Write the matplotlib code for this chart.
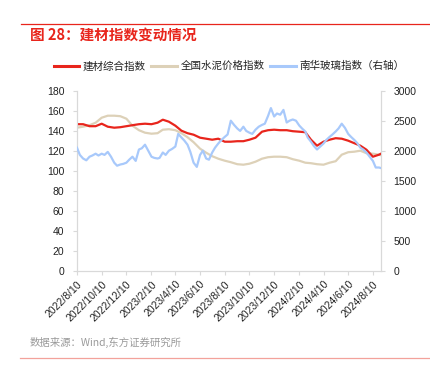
import matplotlib
matplotlib.use("Agg")
import matplotlib.pyplot as plt
from matplotlib.lines import Line2D
import pandas as pd

# ---------------- data ----------------
start = pd.Timestamp("2022-08-10")
end_date = pd.Timestamp("2024-08-30")

# semi-monthly sample dates (10th and 25th of each month) for the two left-axis series
half_dates = []
for k in range(25):
    base = start + pd.DateOffset(months=k)
    half_dates.append(base)
    half_dates.append(base.replace(day=25))
half_dates = half_dates[:50] + [end_date]

building_materials = [146.5, 146.5, 144.5, 144.5, 147, 144, 143, 143.5, 144.5, 145.5,
                      146.5, 147, 146.5, 148, 151, 149, 145, 140, 137.5, 136,
                      133, 132, 131, 132, 129, 129, 129.5, 129.5, 131, 133,
                      139, 140.5, 141, 140.5, 140.5, 139.5, 139, 138.5, 131, 125,
                      129, 131, 132.5, 132, 130, 127.5, 125, 121, 114, 116, 117]

cement_price = [143, 144, 145.5, 148, 153, 155, 155, 154.5, 152, 145,
                140.5, 138, 137, 137.5, 141, 141.5, 140.5, 137.5, 133.5, 128.5,
                122, 118, 114.5, 112, 110, 108.5, 106.5, 106, 107, 109,
                112, 113.5, 114, 114, 113.5, 111.5, 110, 108, 107.5, 106.5,
                106, 108, 109.5, 116, 118.5, 119, 120, 117.5, 117, 116, 115.5]

# roughly weekly sample dates for the glass index (10th, 17th, 25th, 2nd)
glass_dates = []
for k in range(25):
    base = start + pd.DateOffset(months=k)
    nxt = base + pd.DateOffset(months=1)
    glass_dates += [base, base.replace(day=17), base.replace(day=25), nxt.replace(day=2)]
glass_dates = glass_dates[:99] + [end_date]

glass_index = [2050, 1930, 1870, 1840, 1900, 1920, 1950, 1920, 1950, 1930,
               1980, 1900, 1800, 1750, 1770, 1780, 1800, 1850, 1900, 1830,
               2020, 2040, 2100, 2000, 1900, 1880, 1870, 1880, 1970, 1930,
               2000, 2030, 2070, 2280, 2220, 2170, 2100, 1980, 1800, 1730,
               1930, 2000, 1870, 1850, 1970, 2050, 2120, 2180, 2230, 2270,
               2500, 2430, 2370, 2330, 2400, 2330, 2300, 2280, 2350, 2400,
               2430, 2450, 2580, 2710, 2570, 2620, 2600, 2680, 2470, 2500,
               2520, 2500, 2420, 2370, 2320, 2220, 2150, 2080, 2020, 2070,
               2120, 2180, 2230, 2270, 2320, 2370, 2450, 2380, 2280, 2230,
               2180, 2130, 2050, 2020, 1970, 1900, 1830, 1720, 1720, 1710]

tick_labels = ["2022/8/10", "2022/10/10", "2022/12/10", "2023/2/10", "2023/4/10",
               "2023/6/10", "2023/8/10", "2023/10/10", "2023/12/10", "2024/2/10",
               "2024/4/10", "2024/6/10", "2024/8/10"]
tick_dates = pd.to_datetime(tick_labels, format="%Y/%m/%d")

left_ticks = [0, 20, 40, 60, 80, 100, 120, 140, 160, 180]
right_ticks = [0, 500, 1000, 1500, 2000, 2500, 3000]

names = ["建材综合指数", "全国水泥价格指数", "南华玻璃指数（右轴）"]
title = "图 28：建材指数变动情况"
source = "数据来源：Wind,东方证券研究所"

# ---------------- style ----------------
RED = "#e8251c"
BEIGE = "#ddd1b8"
BLUE = "#a8c9fb"
AXC = "#d9d9d9"
TXT = "#222222"
CJK = ["Noto Sans CJK SC", "DejaVu Sans"]
NUM = ["Liberation Sans", "DejaVu Sans"]

fig = plt.figure(figsize=(4.31, 3.75), dpi=100)
fig.patch.set_facecolor("white")

W, H = 431.0, 375.0
L, R, T, B = 77, 381, 90.7, 270.7
ax = fig.add_axes([L / W, 1 - B / H, (R - L) / W, (B - T) / H])
ax2 = ax.twinx()

l1, = ax.plot(half_dates, building_materials, color=RED, lw=1.6, zorder=3)
l2, = ax.plot(half_dates, cement_price, color=BEIGE, lw=1.6, zorder=2)
l3, = ax2.plot(glass_dates, glass_index, color=BLUE, lw=1.6, zorder=3)

ax.set_xlim(start, end_date)
ax.set_ylim(0, 180)
ax2.set_ylim(0, 3000)
ax.set_yticks(left_ticks)
ax.set_yticklabels([str(v) for v in left_ticks])
ax2.set_yticks(right_ticks)
ax2.set_yticklabels([str(v) for v in right_ticks])
ax.set_xticks(tick_dates)
ax.set_xticklabels(tick_labels, rotation=45, ha="right", rotation_mode="anchor")

for a in (ax, ax2):
    for s in a.spines.values():
        s.set_color(AXC)
        s.set_linewidth(0.8)
    a.spines["top"].set_visible(False)
    a.tick_params(colors=AXC, labelcolor=TXT, length=3, width=0.8, labelsize=7.5)
    for lab in a.get_xticklabels() + a.get_yticklabels():
        lab.set_family(NUM)
ax.tick_params(axis="y", pad=6)
ax2.tick_params(axis="y", pad=6)
ax.tick_params(axis="x", pad=3)
ax.patch.set_alpha(0)

# header / footer
fig.add_artist(Line2D([21 / W, 1.0], [1 - 24 / H, 1 - 24 / H], color=RED, lw=0.9))
fig.text(30 / W, 1 - 35 / H, title, color=RED, fontsize=10.5, fontweight="bold",
         family=CJK, ha="left", va="center")
fig.text(30 / W, 1 - 342 / H, source, color="#9a9a9a", fontsize=7.5,
         family=CJK, ha="left", va="center")
fig.add_artist(Line2D([20 / W, 1.0], [1 - 358 / H, 1 - 358 / H], color="#f3a29b", lw=0.9))

leg = fig.legend([l1, l2, l3], names, loc="center", bbox_to_anchor=(229 / W, 1 - 66 / H),
                 ncol=3, frameon=False, handlelength=2.4, handletextpad=0.35,
                 columnspacing=0.55, prop={"family": CJK, "size": 7.6})
for t in leg.get_texts():
    t.set_color(TXT)
for h in leg.legend_handles:
    h.set_linewidth(2.2)

fig.savefig("out.png", dpi=100, facecolor="white")
